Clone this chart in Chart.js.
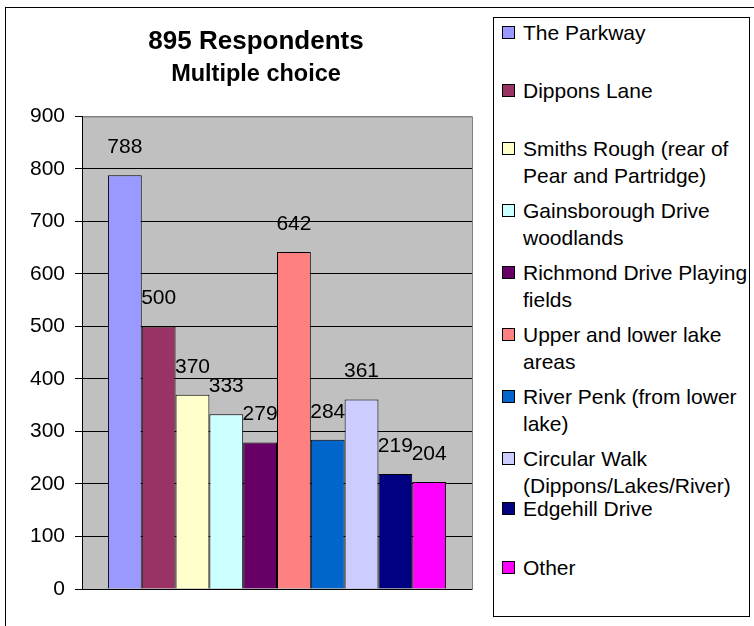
<!DOCTYPE html>
<html>
<head>
<meta charset="utf-8">
<script src="https://cdn.jsdelivr.net/npm/chart.js@4/dist/chart.umd.min.js"></script>
<style>
  html, body { margin: 0; padding: 0; background: #fff; overflow: hidden; }
  body { width: 754px; height: 626px; position: relative; font-family: "Liberation Sans", Arial, sans-serif; }
  #frame { position: absolute; left: 5px; top: 7px; width: 900px; height: 800px; border: 1px solid #000; }
  #wrap { position: absolute; left: 0; top: 0; width: 490px; height: 626px; }
  #legend { position: absolute; left: 493px; top: 17px; width: 257px; height: 600px; border: 1px solid #000; box-sizing: border-box; background: #fff; }
  .item { position: absolute; left: 29px; width: 228px; font-size: 21px; line-height: 27px; color: #000; white-space: normal; }
  .sw { position: absolute; left: -21px; top: 7px; width: 13px; height: 13px; border: 1px solid #000; box-sizing: border-box; }
</style>
</head>
<body>
<div id="frame"></div>
<div id="wrap"><canvas id="chart"></canvas></div>
<div id="legend"></div>
<script>
  // Survey counts, one bar per location
  const locations = [
    "The Parkway",
    "Dippons Lane",
    "Smiths Rough (rear of Pear and Partridge)",
    "Gainsborough Drive woodlands",
    "Richmond Drive Playing fields",
    "Upper and lower lake areas",
    "River Penk (from lower lake)",
    "Circular Walk (Dippons/Lakes/River)",
    "Edgehill Drive",
    "Other"
  ];
  const counts = [788, 500, 370, 333, 279, 642, 284, 361, 219, 204];
  const barColors = ["#9999FF", "#993366", "#FFFFCC", "#CCFFFF", "#660066",
                     "#FF8080", "#0066CC", "#CCCCFF", "#000080", "#FF00FF"];
  const yTicks = [0, 100, 200, 300, 400, 500, 600, 700, 800, 900];

  // first-line centre of each legend entry (page px)
  const legendLineY = [32, 90, 148, 210, 272, 334, 396, 458, 508, 567];

  const FONT = "'Liberation Sans', Arial, sans-serif";

  const plotBg = {
    id: "plotBg",
    afterLayout(chart) {
      // let the y tick labels use the space left of the axis box (no clipping)
      chart.scales.y.left = 0;
    },
    beforeDraw(chart) {
      const { ctx, chartArea: a } = chart;
      ctx.save();
      ctx.fillStyle = "#C0C0C0";
      ctx.fillRect(a.left, a.top, a.right - a.left, a.bottom - a.top);
      ctx.strokeStyle = "#808080";
      ctx.lineWidth = 1;
      ctx.strokeRect(a.left + 0.5, a.top + 0.5, a.right - a.left, a.bottom - a.top);
      ctx.restore();
    }
  };

  const valueLabels = {
    id: "valueLabels",
    afterDatasetsDraw(chart) {
      const ctx = chart.ctx;
      ctx.save();
      ctx.font = "21px " + FONT;
      ctx.fillStyle = "#000";
      ctx.textAlign = "center";
      ctx.textBaseline = "middle";
      chart.data.datasets.forEach((ds, i) => {
        const bar = chart.getDatasetMeta(i).data[0];
        ctx.fillText(String(ds.data[0]), bar.x, bar.y - 28);
      });
      ctx.restore();
    }
  };

  const ctx = document.getElementById("chart").getContext("2d");
  new Chart(ctx, {
    type: "bar",
    data: {
      labels: [""],
      datasets: locations.map((name, i) => ({
        label: name,
        data: [counts[i]],
        backgroundColor: barColors[i],
        borderColor: "#000",
        borderWidth: 1,
        categoryPercentage: 0.867,
        barPercentage: 1.0
      }))
    },
    options: {
      responsive: true,
      maintainAspectRatio: false,
      animation: false,
      layout: { padding: { left: 40, right: 18, top: 0, bottom: 37 } },
      plugins: {
        legend: { display: false },
        tooltip: { enabled: false },
        title: {
          display: true,
          text: "895 Respondents",
          color: "#000",
          font: { family: FONT, size: 26, weight: "bold", lineHeight: 1.2 },
          padding: { top: 26, bottom: 3 }
        },
        subtitle: {
          display: true,
          text: "Multiple choice",
          color: "#000",
          font: { family: FONT, size: 23.5, weight: "bold", lineHeight: 1.2 },
          padding: { top: 0, bottom: 28 }
        }
      },
      scales: {
        x: { display: false },
        y: {
          min: yTicks[0],
          max: yTicks[yTicks.length - 1],
          afterFit(scale) { scale.width = 42; },
          afterBuildTicks(scale) { scale.ticks = yTicks.map(v => ({ value: v })); },
          ticks: { color: "#000", font: { family: FONT, size: 21 }, padding: 10 },
          grid: {
            color: c => (c.tick && c.tick.value === 900 ? "#808080" : "#000"),
            tickColor: "#000",
            tickLength: 7,
            drawTicks: true
          },
          border: { color: "#000", width: 1 }
        }
      }
    },
    plugins: [plotBg, valueLabels]
  });

  // legend box
  const legend = document.getElementById("legend");
  locations.forEach((name, i) => {
    const item = document.createElement("div");
    item.className = "item";
    item.style.top = (legendLineY[i] - 17 - 1 - 13.5) + "px";
    const sw = document.createElement("span");
    sw.className = "sw";
    sw.style.background = barColors[i];
    item.appendChild(sw);
    item.appendChild(document.createTextNode(name));
    legend.appendChild(item);
  });
</script>
</body>
</html>
